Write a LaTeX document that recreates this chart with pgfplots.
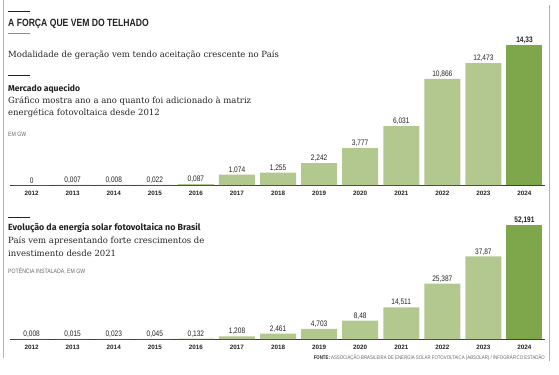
\documentclass[border=0pt]{standalone}
\usepackage{pgfplots}
\pgfplotsset{compat=1.18}
\usepackage{pgfplotstable}
\usepackage{fontspec}
\setmainfont{DejaVu Serif}
\newfontfamily\narrow[FakeStretch=0.82]{Liberation Sans}
\newfontfamily\sans{Liberation Sans}
\newfontfamily\fira{Fira Sans}
\definecolor{lg}{HTML}{B3C88F}
\definecolor{dg}{HTML}{7EA64B}
\definecolor{txt}{HTML}{222222}

\pgfplotstableread{
x y l
0 0 0
1 0.007 0,007
2 0.008 0,008
3 0.022 0,022
4 0.087 0,087
5 1.074 1,074
6 1.255 1,255
7 2.242 2,242
8 3.777 3,777
9 6.031 6,031
10 10.866 10,866
11 12.473 12,473
}\upperdata
\pgfplotstableread{
x y l
12 14.33 14,33
}\upperlast
\pgfplotstableread{
x y l
0 0.008 0,008
1 0.015 0,015
2 0.023 0,023
3 0.045 0,045
4 0.132 0,132
5 1.208 1,208
6 2.461 2,461
7 4.703 4,703
8 8.48 8,48
9 14.511 14,511
10 25.387 25,387
11 37.87 37,87
}\lowerdata
\pgfplotstableread{
x y l
12 52.191 52,191
}\lowerlast

\pgfplotsset{
  barstyle/.style={
    scale only axis,
    width=535bp,
    xmin=-0.526, xmax=12.5,
    ymin=0,
    clip=false,
    axis x line*=bottom,
    axis y line=none,
    x axis line style={-, draw=black!75, line width=0.7bp},
    xtick={0,...,12},
    xticklabels={2012,2013,2014,2015,2016,2017,2018,2019,2020,2021,2022,2023,2024},
    major tick length=0pt,
    xticklabel style={font=\sans\bfseries\fontsize{6.3bp}{7bp}\selectfont, text=txt, yshift=-2.5bp},
    point meta=explicit symbolic,
    nodes near coords,
    every node near coord/.append style={font=\narrow\fontsize{8bp}{9bp}\selectfont, text=txt, inner sep=1.2bp},
  },
}

\begin{document}
\begin{tikzpicture}[x=1bp,y=1bp]
\path[use as bounding box] (0,0) rectangle (559,374);
\draw[black!30, line width=0.9bp] (3,374) -- (3,16);
\draw[black!30, line width=0.9bp] (549,369) -- (549,13);
\draw[txt, line width=0.9bp] (8,363) -- (30,363);
\draw[black!45, line width=0.7bp] (8,341) -- (30,341);
\draw[txt, line width=0.9bp] (8,299) -- (30,299);
\draw[txt, line width=0.9bp] (8,157) -- (30,157);

\node[anchor=west, inner sep=0, text=txt] at (8,350) {\narrow\bfseries\fontsize{10.5bp}{12bp}\selectfont A FORÇA QUE VEM DO TELHADO};
\node[anchor=west, inner sep=0, text=txt] at (8,319) {\fontsize{8.5bp}{10bp}\selectfont Modalidade de geração vem tendo aceitação crescente no País};
\node[anchor=west, inner sep=0, text=txt] at (8,285) {\fira\bfseries\fontsize{8.6bp}{10bp}\selectfont Mercado aquecido};
\node[anchor=west, inner sep=0, text=txt] at (8,273.5) {\fontsize{8.5bp}{10bp}\selectfont Gráfico mostra ano a ano quanto foi adicionado à matriz};
\node[anchor=west, inner sep=0, text=txt] at (8,261) {\fontsize{8.5bp}{10bp}\selectfont energética fotovoltaica desde 2012};
\node[anchor=west, inner sep=0, text=black!60] at (8,240) {\narrow\fontsize{6.3bp}{7bp}\selectfont EM GW};

\node[anchor=west, inner sep=0, text=txt] at (8,146) {\fira\bfseries\fontsize{8.9bp}{10bp}\selectfont Evolução da energia solar fotovoltaica no Brasil};
\node[anchor=west, inner sep=0, text=txt] at (8,133) {\fontsize{8.5bp}{10bp}\selectfont País vem apresentando forte crescimentos de};
\node[anchor=west, inner sep=0, text=txt] at (8,120.5) {\fontsize{8.5bp}{10bp}\selectfont investimento desde 2021};
\node[anchor=west, inner sep=0, text=black!60] at (8,103) {\narrow\fontsize{6.3bp}{7bp}\selectfont POTÊNCIA INSTALADA, EM GW};

\node[anchor=east, inner sep=0, text=black!60] at (545,16) {\narrow\fontsize{5.3bp}{6bp}\selectfont \textbf{\color{txt}FONTE:} ASSOCIAÇÃO BRASILEIRA DE ENERGIA SOLAR FOTOVOLTAICA (ABSOLAR) / INFOGRÁFICO ESTADÃO};

\begin{axis}[barstyle, at={(10bp,189bp)}, anchor=south west, height=150bp, ymax=15.35]
\addplot[ybar, bar width=36bp, bar shift=0pt, fill=lg, draw=none] table[x=x, y=y, meta=l] {\upperdata};
\addplot[ybar, bar width=36bp, bar shift=0pt, fill=dg, draw=none,
  every node near coord/.append style={font=\narrow\bfseries\fontsize{8bp}{9bp}\selectfont}] table[x=x, y=y, meta=l] {\upperlast};
\end{axis}

\begin{axis}[barstyle, at={(10bp,35bp)}, anchor=south west, height=120bp, ymax=55.05]
\addplot[ybar, bar width=36bp, bar shift=0pt, fill=lg, draw=none] table[x=x, y=y, meta=l] {\lowerdata};
\addplot[ybar, bar width=36bp, bar shift=0pt, fill=dg, draw=none,
  every node near coord/.append style={font=\narrow\bfseries\fontsize{8bp}{9bp}\selectfont}] table[x=x, y=y, meta=l] {\lowerlast};
\end{axis}
\end{tikzpicture}
\end{document}
